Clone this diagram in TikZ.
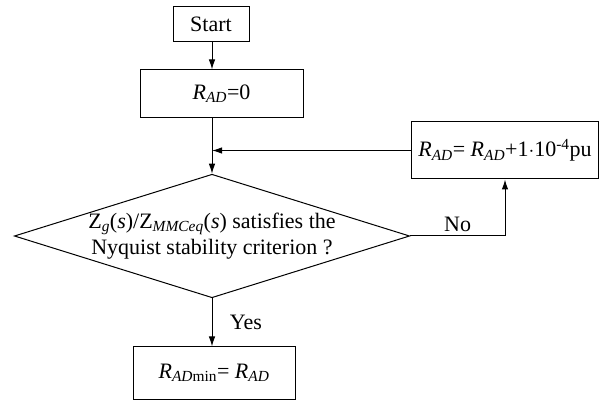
\documentclass[tikz,border=0pt]{standalone}
\usepackage{fontspec}
\setmainfont{Liberation Serif}
\usepackage{tikz}
\usetikzlibrary{shapes.geometric,arrows.meta}

\newcommand{\RAD}{\textit{R}\textsubscript{\textit{AD}}}

\begin{document}
\begin{tikzpicture}[x=1pt,y=-1pt,font=\fontsize{22}{26}\selectfont,
    box/.style={draw,line width=1pt,inner sep=0pt},
    flow/.style={-{Latex[length=10pt,width=6.5pt]},line width=1pt}]
    \useasboundingbox (0,0) rectangle (600,403);
    \node[box,minimum width=76pt,minimum height=35pt] (start) at (211,24.5) {Start};
    \node[box,minimum width=163pt,minimum height=48pt] (init) at (221.5,94) {\RAD=0};
    \node[box,minimum width=187pt,minimum height=57pt] (update) at (505,150.5)
      {\RAD= \RAD+1$\cdot$10\textsuperscript{-4}pu};
    \node[draw,diamond,line width=1pt,inner sep=0pt,aspect=3.2,
      minimum width=395pt,minimum height=123pt,align=center] (check) at (212,236)
      {Z\textsubscript{\textit{g}}(\textit{s})/Z\textsubscript{\textit{MMCeq}}(\textit{s}) satisfies the\\
       Nyquist stability criterion ?};
    \node[box,minimum width=162pt,minimum height=52pt] (result) at (214,373)
      {\textit{R}\textsubscript{\textit{AD}min}= \RAD};
    \draw[flow] (start.south -| check.north) -- (init.north -| check.north);
    \draw[flow] (init.south -| check.north) -- (check.north);
    \draw[flow] (update.west) -- (update.west -| check.north);
    \draw[flow] (check.east) -| node[pos=0.25,above] {No} (update.south);
    \draw[flow] (check.south) -- node[right,xshift=14pt] {Yes} (check.south |- result.north);
\end{tikzpicture}
\end{document}
